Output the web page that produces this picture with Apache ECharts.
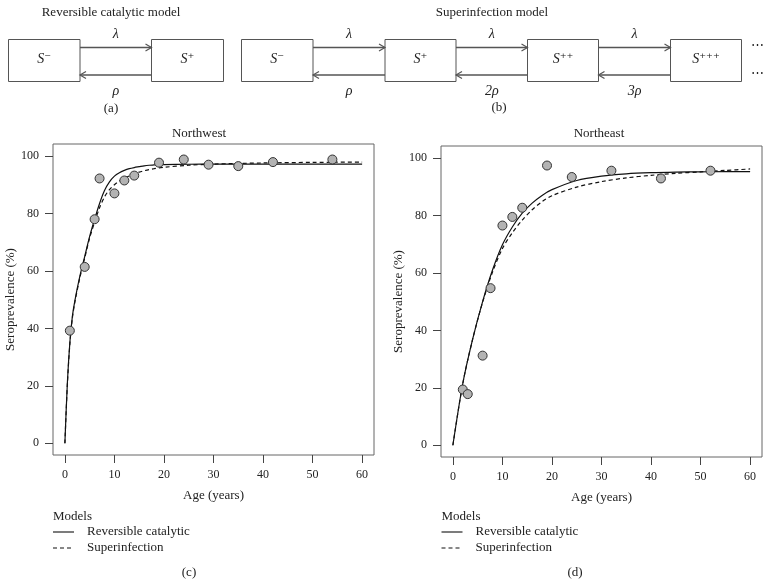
<!DOCTYPE html>
<html>
<head>
<meta charset="utf-8">
<script src="https://cdn.jsdelivr.net/npm/echarts@6/dist/echarts.min.js"></script>
<style>
html, body { margin: 0; padding: 0; background: #fff; }
#main { width: 772px; height: 587px; }
</style>
</head>
<body>
<div id="main"></div>
<script>
var ageTicks = [0, 10, 20, 30, 40, 50, 60];
var prevTicks = [0, 20, 40, 60, 80, 100];

// Northwest observed
var nwAge = [1, 4, 6, 7, 10, 12, 14, 19, 24, 29, 35, 42, 54];
var nwObs = [39.2, 61.4, 78.0, 92.2, 87.0, 91.5, 93.2, 97.7, 98.8, 97.0, 96.5, 97.9, 98.8];
// Northwest fitted curves
var nwFitAge = [0, 0.5, 1, 1.5, 2, 3, 4, 5, 6, 7, 8, 9, 10, 11, 12, 13, 14, 15, 16, 17, 18, 19, 20, 25, 30, 40, 50, 60];
var nwRevCat = [0, 21, 35, 44, 49.5, 58, 65, 72, 78, 83.5, 88, 91, 93, 94.2, 95, 95.6, 96, 96.3, 96.6, 96.8, 96.9, 97, 97.05, 97.15, 97.2, 97.2, 97.2, 97.2];
var nwSuper = [0, 20.5, 34.5, 43.5, 49, 57.5, 64.5, 71.5, 77, 82, 85.8, 88.3, 90, 91.3, 92.3, 93.1, 93.8, 94.4, 94.9, 95.3, 95.6, 95.9, 96.1, 96.8, 97.2, 97.6, 97.8, 97.9];

// Northeast observed
var neAge = [2, 3, 6, 7.6, 10, 12, 14, 19, 24, 32, 42, 52];
var neObs = [19.4, 17.8, 31.2, 54.7, 76.5, 79.5, 82.7, 97.4, 93.4, 95.6, 92.9, 95.6];
// Northeast fitted curves
var neFitAge = [0, 2, 4, 6, 8, 10, 12, 14, 16, 18, 20, 25, 30, 35, 40, 45, 50, 55, 60];
var neRevCat = [0, 21.5, 37, 50, 61, 69.8, 76, 80.8, 84.3, 87, 89, 92.2, 93.7, 94.5, 94.9, 95.1, 95.2, 95.3, 95.3];
var neSuper = [0, 21.5, 37, 49.8, 60.3, 68.5, 74, 78.4, 82, 84.8, 86.9, 89.9, 91.8, 93.1, 94, 94.7, 95.2, 95.7, 96.2];

var FONT = "'Liberation Serif', 'DejaVu Serif', serif";
var INK = '#222';
var LINE = '#555';

function pairs(xs, ys) {
    var out = [];
    for (var i = 0; i < xs.length; i++) out.push([xs[i], ys[i]]);
    return out;
}

function xAxisFor(idx) {
    return {
        gridIndex: idx, type: 'value', min: -2.4, max: 62.4,
        name: 'Age (years)', nameLocation: 'middle', nameGap: 34,
        nameTextStyle: {fontFamily: FONT, fontSize: 13, color: INK},
        axisLine: {show: false, onZero: false},
        axisTick: {show: true, length: 8, customValues: ageTicks, lineStyle: {color: '#444'}},
        axisLabel: {customValues: ageTicks, margin: 14, fontFamily: FONT, fontSize: 12, color: INK},
        splitLine: {show: false}
    };
}
function yAxisFor(idx) {
    return {
        gridIndex: idx, type: 'value', min: -4.1, max: 104.2,
        name: 'Seroprevalence (%)', nameLocation: 'middle', nameGap: 30,
        nameTextStyle: {fontFamily: FONT, fontSize: 13, color: INK},
        axisLine: {show: false, onZero: false},
        axisTick: {show: true, length: 8, customValues: prevTicks, lineStyle: {color: '#444'}},
        axisLabel: {customValues: prevTicks, margin: 14, fontFamily: FONT, fontSize: 12, color: INK},
        splitLine: {show: false}
    };
}
function curve(idx, xs, ys, dashed) {
    return {
        type: 'line', xAxisIndex: idx, yAxisIndex: idx, data: pairs(xs, ys),
        smooth: 0.3, showSymbol: false, silent: true, z: 2,
        lineStyle: {color: '#111', width: 1.2, type: dashed ? [4, 3] : 'solid'}
    };
}
function dots(idx, xs, ys) {
    return {
        type: 'scatter', xAxisIndex: idx, yAxisIndex: idx, data: pairs(xs, ys),
        symbolSize: 9, z: 5,
        itemStyle: {color: '#b3b3b3', borderColor: '#333', borderWidth: 1, opacity: 1}
    };
}

// ---- diagram helpers (graphic) ----
var g = [];
function txt(s, x, y, size, extra) {
    var st = {text: s, x: x, y: y, fill: INK, font: (size || 13) + 'px ' + FONT,
        textAlign: 'center', textVerticalAlign: 'middle'};
    for (var k in extra) st[k] = extra[k];
    g.push({type: 'text', style: st, z: 10});
}
function box(x1, x2, label) {
    g.push({type: 'rect', shape: {x: x1, y: 39.5, width: x2 - x1, height: 42},
        style: {fill: '#fff', stroke: LINE, lineWidth: 1}});
    txt('{s|S}{p|' + label + '}', (x1 + x2) / 2, 59, 13, {
        rich: {
            s: {fontFamily: FONT, fontSize: 14, fontStyle: 'italic', fill: INK},
            p: {fontFamily: FONT, fontSize: 13, fill: INK}
        }
    });
}
function arrow(xa, xb, y, right) {
    g.push({type: 'line', shape: {x1: xa, y1: y, x2: xb, y2: y},
        style: {stroke: LINE, lineWidth: 1.3}});
    var tip = right ? xb : xa, d = right ? -6 : 6;
    g.push({type: 'polyline', shape: {points: [[tip + d, y - 3.5], [tip, y], [tip + d, y + 3.5]]},
        style: {stroke: LINE, lineWidth: 1.2, fill: null}});
}
function greek(s, x, y) {
    txt(s, x, y, 14, {font: 'italic 14px ' + FONT});
}
function link(xa, xb, top, bottom) {
    arrow(xa, xb, 47.5, true);
    arrow(xa, xb, 75, false);
    greek(top, (xa + xb) / 2, 34);
    greek(bottom, (xa + xb) / 2, 91);
}

// (a) reversible catalytic
txt('Reversible catalytic model', 111, 13, 13);
box(8.5, 80, '⁻');
box(151.5, 223.5, '⁺');
link(80, 151.5, 'λ', 'ρ');
txt('(a)', 111, 109, 13);

// (b) superinfection
txt('Superinfection model', 492, 13, 13);
box(241.5, 313, '⁻');
box(385, 456, '⁺');
box(527.5, 598.5, '⁺⁺');
box(670.5, 741.5, '⁺⁺⁺');
link(313, 385, 'λ', 'ρ');
link(456, 527.5, 'λ', '2ρ');
link(598.5, 670.5, 'λ', '3ρ');
txt('⋯', 757, 46, 13);
txt('⋯', 757, 74, 13);
txt('(b)', 499, 108, 13);

// panel titles
txt('Northwest', 199, 134, 13);
txt('Northeast', 599, 134, 13);

// legends and panel labels
function legend(x, lab, labX) {
    txt('Models', x, 517, 13, {textAlign: 'left'});
    g.push({type: 'line', shape: {x1: x, y1: 532, x2: x + 21, y2: 532},
        style: {stroke: '#111', lineWidth: 1.1}});
    g.push({type: 'line', shape: {x1: x, y1: 548, x2: x + 21, y2: 548},
        style: {stroke: '#111', lineWidth: 1.1, lineDash: [4, 3]}});
    txt('Reversible catalytic', x + 34, 532, 13, {textAlign: 'left'});
    txt('Superinfection', x + 34, 548, 13, {textAlign: 'left'});
    txt(lab, labX, 573, 13);
}
legend(53, '(c)', 189);
legend(441.5, '(d)', 575);

var chart = echarts.init(document.getElementById('main'));
chart.setOption({
    animation: false,
    backgroundColor: '#fff',
    grid: [
        {left: 53, top: 144, width: 321, height: 311, show: true, borderColor: '#666', borderWidth: 1, backgroundColor: 'transparent'},
        {left: 441, top: 146, width: 321, height: 311, show: true, borderColor: '#666', borderWidth: 1, backgroundColor: 'transparent'}
    ],
    xAxis: [xAxisFor(0), xAxisFor(1)],
    yAxis: [yAxisFor(0), yAxisFor(1)],
    series: [
        curve(0, nwFitAge, nwRevCat, false),
        curve(0, nwFitAge, nwSuper, true),
        dots(0, nwAge, nwObs),
        curve(1, neFitAge, neRevCat, false),
        curve(1, neFitAge, neSuper, true),
        dots(1, neAge, neObs)
    ],
    graphic: g
});
</script>
</body>
</html>
